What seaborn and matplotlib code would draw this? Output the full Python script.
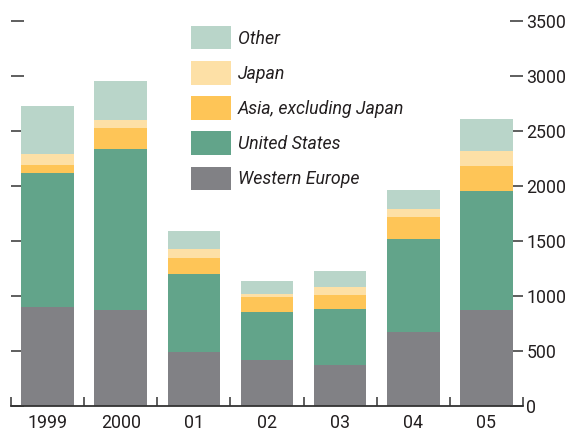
import pandas as pd
import matplotlib.pyplot as plt
import seaborn as sns
from matplotlib.patches import Patch
from matplotlib.ticker import FixedLocator

sns.set_theme(style="white")
plt.rcParams['font.family'] = ['Roboto', 'DejaVu Sans']

years = ["1999", "2000", "01", "02", "03", "04", "05"]
western_europe = [900, 875, 491, 421, 373, 675, 875]
united_states = [1221, 1461, 709, 434, 509, 843, 1080]
asia_ex_japan = [73, 191, 145, 136, 127, 200, 227]
japan = [100, 73, 82, 30, 73, 73, 136]
other = [433, 355, 164, 115, 145, 173, 291]

series = ["Western Europe", "United States", "Asia, excluding Japan", "Japan", "Other"]
colors = ["#818185", "#62a48a", "#fec557", "#fde0a6", "#b9d5c9"]

df = pd.DataFrame({"year": years,
                   "Western Europe": western_europe,
                   "United States": united_states,
                   "Asia, excluding Japan": asia_ex_japan,
                   "Japan": japan,
                   "Other": other})
cum = df[series].cumsum(axis=1)
cum["year"] = df["year"]

fig = plt.figure(figsize=(5.67, 4.32), dpi=100)
ax = fig.add_axes([11/567, 26/432, 512/567, 385/432])

# draw from the top of the stack down so lower segments cover upper totals
for name, col in zip(reversed(series), reversed(colors)):
    sns.barplot(data=cum, x="year", y=name, color=col, saturation=1,
                width=0.72, ax=ax, linewidth=0)

ax.set_ylim(0, 3500)
ax.set_xlim(-0.5, 6.5)
ax.set_xlabel("")
ax.set_ylabel("")

txt = "#231f20"
for s in ["top", "left", "right"]:
    ax.spines[s].set_visible(False)
ax.spines["bottom"].set_color("#333333")
ax.spines["bottom"].set_linewidth(1.3)

ax.set_yticks([0, 500, 1000, 1500, 2000, 2500, 3000, 3500])
ax.tick_params(axis="y", left=True, right=True, labelleft=False, labelright=True,
               direction="in", length=9.5, width=1.1, color="#333333",
               pad=2.5, labelsize=12.8, labelcolor=txt)
ax.tick_params(axis="x", which="major", length=0, pad=6, labelsize=12.8, labelcolor=txt)
ax.xaxis.set_minor_locator(FixedLocator([i - 0.5 for i in range(8)]))
ax.tick_params(axis="x", which="minor", bottom=True, direction="in",
               length=6.5, width=1.1, color="#333333")

handles = [Patch(facecolor=c, edgecolor="none") for c in reversed(colors)]
leg = fig.legend(handles, list(reversed(series)), loc="upper left",
                 bbox_to_anchor=(191/567, 1 - 26/432), bbox_transform=fig.transFigure,
                 frameon=False, borderpad=0, borderaxespad=0,
                 handlelength=2.25, handleheight=1.65, labelspacing=0.66,
                 handletextpad=0.4, prop={"size": 12.8, "style": "italic"})
for t in leg.get_texts():
    t.set_color(txt)

fig.savefig("out.png", dpi=100)
